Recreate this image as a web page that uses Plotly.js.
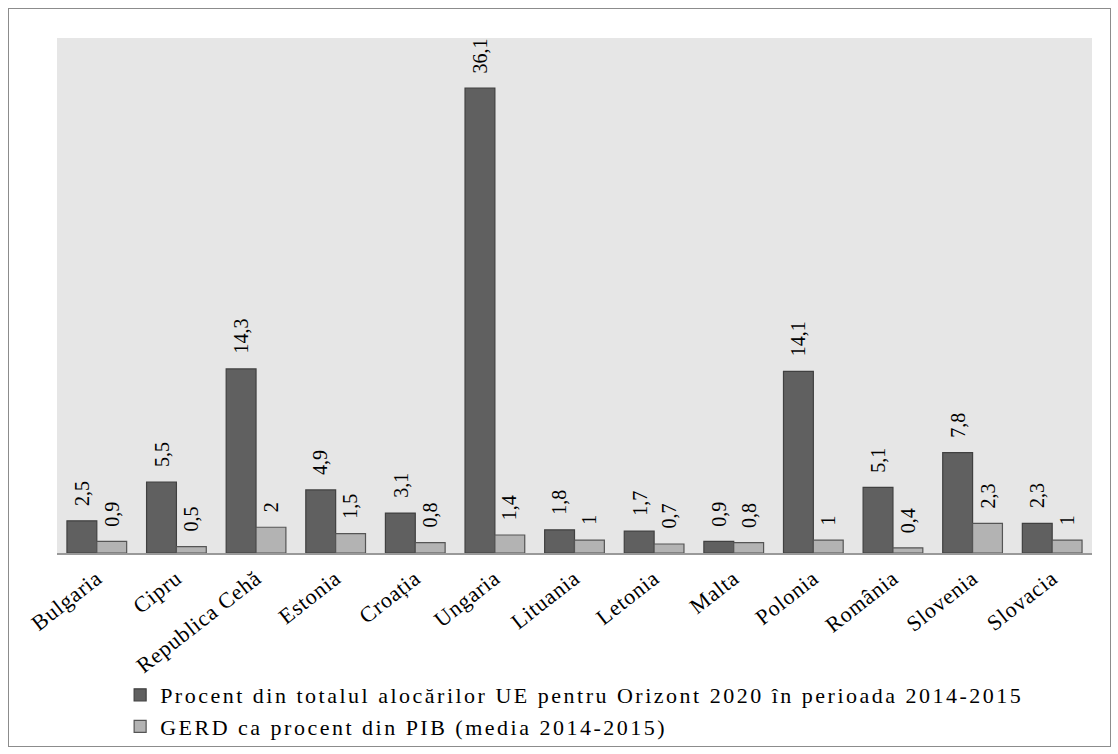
<!DOCTYPE html>
<html><head><meta charset="utf-8">
<script src="https://cdn.plot.ly/plotly-3.0.1.min.js"></script>
<style>
html,body{margin:0;padding:0;background:#fff;}
#wrap{position:relative;width:1118px;height:754px;}
#frame{position:absolute;left:8px;top:8px;width:1101px;height:737px;border:1px solid #8c8c8c;pointer-events:none;z-index:5;}
#chart{position:absolute;left:0;top:0;width:1118px;height:754px;}
.legendtext{letter-spacing:2.5px;}
.xtick text{letter-spacing:0.8px;}
</style></head>
<body><div id="wrap"><div id="chart"></div><div id="frame"></div></div>
<script>
const countries = ["Bulgaria","Cipru","Republica Cehă","Estonia","Croația","Ungaria","Lituania","Letonia","Malta","Polonia","România","Slovenia","Slovacia"];
const horizonShare = [2.5,5.5,14.3,4.9,3.1,36.1,1.8,1.7,0.9,14.1,5.1,7.8,2.3];
const gerd = [0.9,0.5,2,1.5,0.8,1.4,1,0.7,0.8,1,0.4,2.3,1];
const seriesNames = ["Procent din totalul alocărilor UE pentru Orizont 2020 în perioada 2014-2015","GERD ca procent din PIB (media 2014-2015)"];
const fmt = v => String(v).replace('.', ',');
const font = "Liberation Serif, Times New Roman, serif";
const traces = [
  {type:'bar', x:countries, y:horizonShare, name:seriesNames[0],
   marker:{color:'#606060', line:{color:'#404040', width:1.2}}},
  {type:'bar', x:countries, y:gerd, name:seriesNames[1],
   marker:{color:'#b3b3b3', line:{color:'#555555', width:1.2}}}
];
const barHalf = 15; // half bar width in px for label offset
const annotations = [];
[[horizonShare,-barHalf],[gerd,barHalf]].forEach(([vals,shift]) => {
  vals.forEach((v,i) => annotations.push({
    x:countries[i], y:v, xref:'x', yref:'y', text:fmt(v), showarrow:false,
    textangle:-90, xanchor:'center', yanchor:'bottom', xshift:shift, yshift:13,
    font:{family:font,size:20,color:'#000'}
  }));
});
const layout = {
  width:1118, height:754,
  margin:{l:57, r:26, t:38, b:201, autoexpand:false},
  paper_bgcolor:'rgba(0,0,0,0)', plot_bgcolor:'#e6e6e6',
  font:{family:font, size:20, color:'#000'},
  barmode:'group', bargap:0.25, bargroupgap:0,
  xaxis:{tickangle:-38, showgrid:false, showline:true, linecolor:'#999999', linewidth:2,
         ticks:'', tickfont:{family:font,size:22,color:'#000'}, automargin:false, ticklabelstandoff:2},
  yaxis:{range:[0,40], visible:false, showgrid:false, zeroline:false},
  annotations:annotations,
  showlegend:true,
  legend:{orientation:'v', x:0.061, xanchor:'left', y:-0.235, yanchor:'top',
          font:{family:font,size:22,color:'#000'}, bgcolor:'rgba(0,0,0,0)', tracegroupgap:0, itemwidth:30}
};
Plotly.newPlot('chart', traces, layout, {displayModeBar:false, staticPlot:true});
</script></body></html>
